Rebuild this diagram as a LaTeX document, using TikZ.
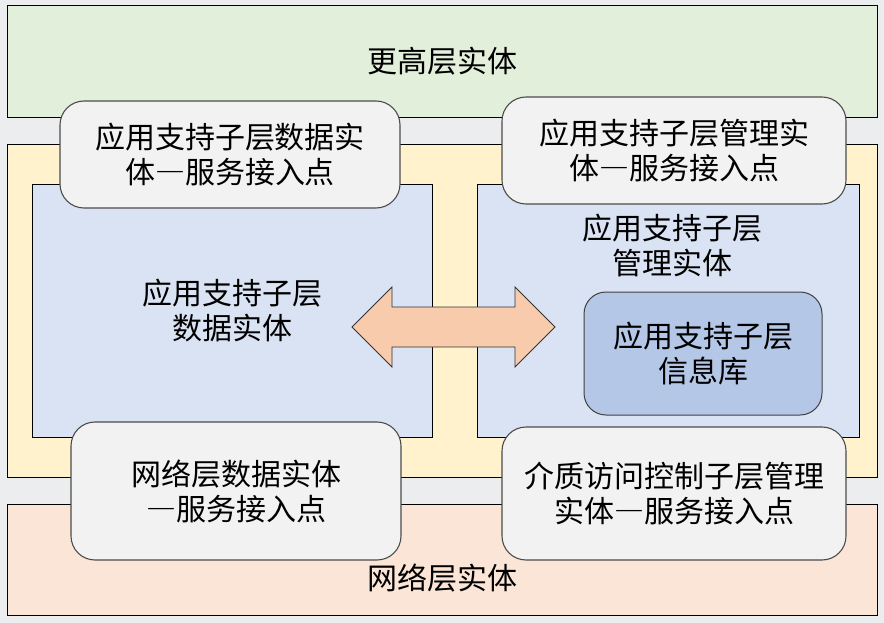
\documentclass[tikz,border=0pt]{standalone}
\usepackage{fontspec}
\newfontfamily\cjk{Noto Sans CJK SC}
\newcommand{\fwdash}{{\addfontfeatures{CharacterWidth=Full}—}}
\usetikzlibrary{positioning}
\definecolor{bgGray}{RGB}{236,237,239}
\definecolor{upperGreen}{RGB}{226,239,218}
\definecolor{apsYellow}{RGB}{255,242,204}
\definecolor{nwkPink}{RGB}{251,229,214}
\definecolor{entBlue}{RGB}{218,227,243}
\definecolor{dbBlue}{RGB}{180,199,231}
\definecolor{arrowOrange}{RGB}{248,203,173}
\definecolor{sapGray}{RGB}{242,242,242}

\begin{document}
\begin{tikzpicture}[
    x=1pt, y=-1pt,
    font=\cjk\fontsize{30}{35}\selectfont,
    layer/.style={rectangle, draw=black, line width=0.8pt, inner sep=0pt},
    entity/.style={rectangle, draw=black, line width=0.8pt, fill=entBlue, inner sep=0pt, align=center},
    infobase/.style={rectangle, rounded corners=22pt, draw=black!75, line width=1pt, fill=dbBlue, align=center, minimum width=238, minimum height=123},
    sap/.style={rectangle, rounded corners=24pt, draw=black!70, line width=1.1pt, fill=sapGray, align=center, inner sep=0pt},
    txt/.style={align=center, inner sep=0pt}
]
    \fill[bgGray] (0,0) rectangle (884,623);
    \useasboundingbox (0,0) rectangle (884,623);

    % layers
    \node[layer, fill=upperGreen, minimum width=870, minimum height=112] (higher) at (442,61) {更高层实体};
    \node[layer, fill=apsYellow, minimum width=870, minimum height=333] (aps) at (442,310.5) {};
    \node[layer, fill=nwkPink, minimum width=870, minimum height=111] (nwk) at (442,559.5) {};
    \node[txt] (nwk_txt) at (442,578) {网络层实体};

    % entities inside the APS layer
    \node[entity, minimum width=400, minimum height=253] (apsde) at (232,310.5) {应用支持子层\\数据实体};
    \node[entity, minimum width=382, minimum height=253] (apsme) at (668,310.5) {};
    \node[txt] (apsme_txt) at (672,245) {应用支持子层\\管理实体};
    \node[infobase] (aib) at (703,353.5) {应用支持子层\\信息库};

    \draw[line width=0.8pt, draw=black!80, fill=arrowOrange]
        (352,327) -- (392,287) -- (392,307) -- (515,307) -- (515,287) -- (555,327)
        -- (515,367) -- (515,347) -- (392,347) -- (392,367) -- cycle;

    % service access points
    \node[sap, minimum width=340, minimum height=107] (apsde_sap) at (230,154.5) {应用支持子层数据实\\体\fwdash 服务接入点};
    \node[sap, minimum width=344, minimum height=107] (apsme_sap) at (674,150.5) {应用支持子层管理实\\体\fwdash 服务接入点};
    \node[sap, minimum width=330, minimum height=138] (nlde_sap) at (236,491) {网络层数据实体\\\fwdash 服务接入点};
    \node[sap, minimum width=344, minimum height=133] (mlme_sap) at (674,493.5) {介质访问控制子层管理\\实体\fwdash 服务接入点};
\end{tikzpicture}
\end{document}
